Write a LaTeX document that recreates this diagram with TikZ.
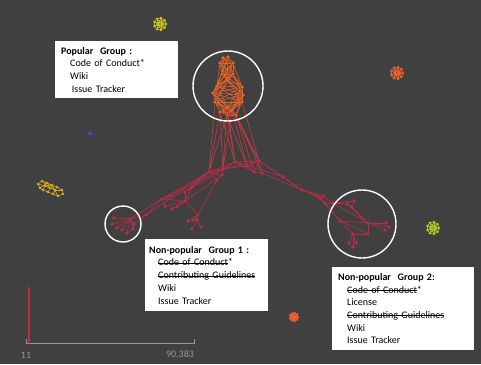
\documentclass[tikz,border=0pt]{standalone}
\usepackage{fontspec}
\setmainfont{Carlito}
\usetikzlibrary{positioning}
\definecolor{bgdark}{RGB}{64,64,64}
\definecolor{netred}{RGB}{196,42,72}
\definecolor{netorange}{RGB}{236,100,40}
\definecolor{netgold}{RGB}{215,170,35}
\definecolor{netyellow}{RGB}{200,190,30}
\definecolor{netlime}{RGB}{175,200,35}
\definecolor{netblue}{RGB}{70,70,210}
\definecolor{scalegray}{RGB}{150,150,150}
\tikzset{
  infobox/.style={rectangle, fill=white, anchor=north west, align=left,
    inner xsep=6pt, font=\fontsize{10}{12.7}\selectfont, text=black},
  hilite/.style={draw=white, line width=1.4pt},
  netedge/.style={draw=netred, line width=0.6pt},
  popedge/.style={draw=netorange, line width=0.55pt},
  linkedge/.style={draw=netred!75!netorange, line width=0.6pt},
  netdot/.style={circle, fill=netred, inner sep=0pt, minimum size=3.6pt},
  popdot/.style={circle, fill=netorange, inner sep=0pt, minimum size=3.8pt},
  scalelabel/.style={text=scalegray, font=\fontsize{10}{11}\selectfont}
}
\newcommand{\grp}[1]{\textbf{#1}}
\newcommand{\ind}{\hspace*{9pt}}
\newcommand{\strike}[1]{\setbox0\hbox{#1}\rlap{\rule[0.27em]{\wd0}{0.45pt}}\box0}
% small star shaped component: x, y, colour, radius
\newcommand{\blob}[4]{%
  \foreach \a in {0,40,...,320}{
    \draw[#3, line width=0.6pt] ([shift={(\a:#4pt)}]#1,#2) -- ([shift={(\a+160:#4pt)}]#1,#2);
    \draw[#3, line width=0.6pt] ([shift={(\a:#4pt)}]#1,#2) -- ([shift={(\a+40:#4pt)}]#1,#2);
    \fill[#3] ([shift={(\a:#4pt)}]#1,#2) circle (1.4pt);
    \fill[#3] ([shift={(\a+20:#4pt*0.5)}]#1,#2) circle (1pt);
  }}

\begin{document}
\begin{tikzpicture}[x=1pt, y=-1pt]
  \useasboundingbox (0,0) rectangle (481,364);
  \fill[bgdark] (0,0) rectangle (481,364);

  % Popular cluster
  \foreach \n/\x/\y in {p1/223/58, p2/228/57, p3/220/63, p4/233/63, p5/222/74,
      p6/233/74, p7/227/80, p8/217/86, p9/242/87, p10/213/93, p11/243/95,
      p12/215/102, p13/242/102, p14/227/107, p15/232/110, p16/227/115,
      p17/236/115, p18/220/112}
    \node[popdot] (\n) at (\x,\y) {};
  \foreach \i in {1,...,17}{
    \pgfmathtruncatemacro\a{\i+1}
    \pgfmathtruncatemacro\b{min(\i+6,18)}
    \foreach \j in {\a,...,\b}
      \draw[popedge] (p\i) -- (p\j);
  }

  % Centre, arms and the two small groups
  \foreach \n/\x/\y in {c1/235/162, c2/259/161, c3/247/166, c4/254/172, c5/262/173,
      c6/209/172, c7/223/169, c8/217/180, c9/222/175,
      r1/283/177, r2/302/190, r3/317/196, r4/323/196, r5/320/198, r6/325/203,
      r7/333/203, r8/347/204, r9/354/201, r10/352/207, r11/340/221, r12/368/223,
      r13/386/223, r14/389/227, r15/385/230, r16/368/234, r17/353/234,
      r18/349/243, r19/356/243, r20/353/247,
      l1/162/199, l2/185/192, l3/192/187, l4/185/201, l5/165/206, l6/172/209,
      l7/177/207, l8/198/215, l9/193/220, l10/188/221, l11/197/220, l12/201/227,
      l13/192/229, l14/146/215,
      g1/130/219, g2/114/218, g3/112/224, g4/117/228, g5/134/224, g6/133/229,
      g7/127/233, g8/122/230}
    \node[netdot] (\n) at (\x,\y) {};

  \foreach \u/\v in {p16/c1, p16/c6, p15/c2, p15/c3, p14/c7, p17/c2, p18/c6,
      p16/c3, p14/c1, p17/c5, p18/c1, p12/c6, p13/c2, p15/c7, p17/c4, p18/c7}
    \draw[linkedge] (\u) -- (\v);

  \foreach \u/\v in {c1/c2, c1/c3, c2/c3, c1/c6, c1/c7, c6/c7, c6/c9, c7/c9,
      c6/c8, c9/c8, c2/c4, c2/c5, c3/c4, c4/c5, c1/c4, c6/c2, c7/c3,
      c2/r1, c1/r1, r1/r2, c5/r2, c2/r2, r2/r3, r2/r4, r2/r5, r3/r6, r4/r7,
      r5/r6, r6/r8, r7/r8, r7/r9, r8/r10, r9/r10, r6/r11, r5/r11, r8/r12,
      r10/r12, r11/r12, r12/r13, r12/r14, r12/r15, r12/r16, r11/r17, r16/r17,
      r17/r18, r17/r19, r17/r20, r11/r16, r7/r12,
      c6/l2, c6/l3, c1/l2, c6/l1, l1/l2, l1/l4, l2/l4, l3/l4, l4/l5, l4/l6,
      l4/l7, l1/l14, l14/g1, l4/l8, l8/l9, l8/l10, l8/l11, l11/l12, l11/l13,
      c8/l8, c9/l4, l1/l5, l2/l3, c6/l14, c7/l1,
      g1/g2, g1/g3, g1/g4, g1/g5, g1/g6, g1/g7, g1/g8, g5/g6, g6/g7, l14/g5, l1/g1}
    \draw[netedge] (\u) -- (\v);

  % Highlight rings
  \draw[hilite] (228,86) circle (35pt);
  \draw[hilite] (123,224) circle (18pt);
  \draw[hilite] (362,224) circle (34pt);

  % Other components
  \blob{160}{24}{netyellow}{6}
  \blob{397}{73}{netorange}{6}
  \blob{433}{228}{netlime}{6}
  \blob{294}{317}{netorange}{4}
  \foreach \i/\x/\y in {1/38/184, 2/42/181, 3/47/183, 4/52/185, 5/57/187,
      6/62/190, 7/63/194, 8/58/196, 9/53/194, 10/48/192, 11/43/190, 12/40/188,
      13/50/188, 14/55/190, 15/45/186}
    \coordinate (k\i) at (\x,\y);
  \foreach \u/\v in {1/2, 2/3, 3/4, 4/5, 5/6, 6/7, 7/8, 8/9, 9/10, 10/11, 11/12,
      12/1, 1/15, 15/13, 13/14, 14/6, 2/13, 3/14, 11/15, 10/13, 9/14, 4/8, 12/3,
      5/9, 15/4}
    \draw[netgold, line width=0.6pt] (k\u) -- (k\v);
  \foreach \i in {1,...,15}
    \fill[netgold] (k\i) circle (1.4pt);
  \fill[netblue] (87.5,135) -- (92.5,135) -- (90,130.5) -- cycle;

  % Legend boxes
  \node[infobox, text width=111pt, minimum height=57pt] (popbox) at (55,41)
    {\grp{Popular\ \ Group :}\\ \ind Code of Conduct*\\ \ind Wiki\\ \ind\,Issue Tracker};
  \node[infobox, inner xsep=4pt, text width=115pt, minimum height=72pt] (npbox1) at (145,239)
    {\grp{Non-popular\ \ Group 1 :}\\ \ind\strike{Code of Conduct}*\\ \ind\strike{Contributing Guidelines}\\
     \ind Wiki\\ \ind Issue Tracker};
  \node[infobox, text width=130pt, minimum height=83pt] (npbox2) at (332,267)
    {\grp{Non-popular\ \ Group 2:}\\ \ind\strike{Code of Conduct}*\\ \ind License\\
     \ind\strike{Contributing Guidelines}\\ \ind Wiki\\ \ind Issue Tracker};

  % Scale
  \draw[netred, line width=1.3pt] (29,287) -- (29,342);
  \draw[scalegray, line width=0.8pt] (26,339) -- (26,343) -- (194,343) -- (194,339);
  \node[scalelabel] (minlab) at (26,355) {11};
  \node[scalelabel] (maxlab) at (180,355) {90,383};
\end{tikzpicture}
\end{document}
